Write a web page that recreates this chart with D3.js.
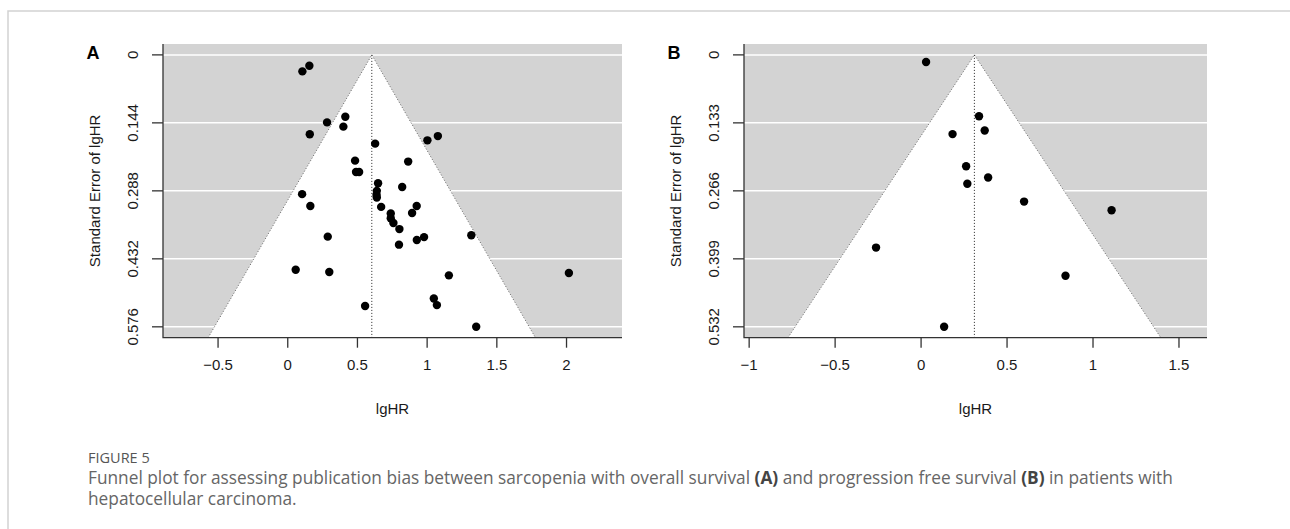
<!DOCTYPE html>
<html>
<head>
<meta charset="utf-8">
<script src="https://cdn.jsdelivr.net/npm/d3@7"></script>
<style>
  body { margin: 0; background: #fff; }
  svg text { font-family: "Liberation Sans", Arial, sans-serif; }
</style>
</head>
<body>
<svg id="chart" width="1290" height="529"></svg>
<script>
// panel A: overall survival
const lgHR_A = [0.155, 0.105, 0.282, 0.413, 0.399, 0.158, 0.627, 1.077, 1.002, 0.483,
  0.864, 0.490, 0.512, 0.648, 0.821, 0.103, 0.639, 0.637, 0.639, 0.162,
  0.670, 0.925, 0.892, 0.739, 0.739, 0.758, 0.801, 0.287, 0.978, 0.926,
  1.317, 0.798, 0.057, 0.298, 1.156, 2.017, 0.555, 1.048, 1.070, 1.352];
const se_A = [0.023, 0.035, 0.143, 0.131, 0.152, 0.168, 0.188, 0.172, 0.181, 0.224,
  0.226, 0.248, 0.248, 0.272, 0.280, 0.295, 0.288, 0.296, 0.302, 0.320,
  0.322, 0.320, 0.335, 0.336, 0.346, 0.356, 0.369, 0.385, 0.386, 0.392,
  0.382, 0.402, 0.455, 0.460, 0.467, 0.462, 0.532, 0.516, 0.530, 0.576];
const estimate_A = 0.603;
const seTicks_A = [0, 0.144, 0.288, 0.432, 0.576];
const seLabels_A = ["0", "0.144", "0.288", "0.432", "0.576"];
const xTicks_A = [-0.5, 0, 0.5, 1, 1.5, 2];
const xLabels_A = ["\u22120.5", "0", "0.5", "1", "1.5", "2"];

// panel B: progression free survival
const lgHR_B = [0.029, 0.337, 0.370, 0.183, 0.262, 0.390, 0.269, 0.599, 1.108, -0.262, 0.840, 0.134];
const se_B = [0.014, 0.120, 0.148, 0.155, 0.218, 0.240, 0.252, 0.287, 0.304, 0.377, 0.432, 0.532];
const estimate_B = 0.31;
const seTicks_B = [0, 0.133, 0.266, 0.399, 0.532];
const seLabels_B = ["0", "0.133", "0.266", "0.399", "0.532"];
const xTicks_B = [-1, -0.5, 0, 0.5, 1, 1.5];
const xLabels_B = ["\u22121", "\u22120.5", "0", "0.5", "1", "1.5"];

const svg = d3.select("#chart");

// outer frame (top + left only)
svg.append("path")
  .attr("d", "M8,529 V11 H1290")
  .attr("fill", "none")
  .attr("stroke", "#d2d2d2")
  .attr("stroke-width", 1.5);

function funnel(opts) {
  const {left, right, letter, xs, ses, est, seTicks, seLabels, xTicks, xLabels, xDomain} = opts;
  const top = 44, bottom = 337.7;
  const fs = 15;
  const seMax = d3.max(seTicks);
  const x = d3.scaleLinear().domain(xDomain).range([left, right]);
  const y = d3.scaleLinear().domain([-0.04 * seMax, 1.04 * seMax]).range([top, bottom]);
  const yLow = y.domain()[1];

  const g = svg.append("g");

  g.append("rect")
    .attr("x", left).attr("y", top)
    .attr("width", right - left).attr("height", bottom - top)
    .attr("fill", "#d3d3d3");

  g.selectAll(".grid")
    .data(seTicks)
    .join("line")
    .attr("x1", left).attr("x2", right)
    .attr("y1", d => y(d)).attr("y2", d => y(d))
    .attr("stroke", "#fff")
    .attr("stroke-width", 1.5);

  const tri = [[est - 1.96 * yLow, yLow], [est, 0], [est + 1.96 * yLow, yLow]];
  g.append("path")
    .attr("d", d3.line().x(d => x(d[0])).y(d => y(d[1]))(tri) + "Z")
    .attr("fill", "#fff");

  g.append("path")
    .attr("d", d3.line().x(d => x(d[0])).y(d => y(d[1]))(tri))
    .attr("fill", "none")
    .attr("stroke", "#666")
    .attr("stroke-width", 1)
    .attr("stroke-dasharray", "1,2");

  g.append("line")
    .attr("x1", x(est)).attr("x2", x(est))
    .attr("y1", y(0)).attr("y2", bottom)
    .attr("stroke", "#222")
    .attr("stroke-width", 1)
    .attr("stroke-dasharray", "1,2");

  g.selectAll(".pt")
    .data(xs.map((v, i) => [v, ses[i]]))
    .join("circle")
    .attr("cx", d => x(d[0]))
    .attr("cy", d => y(d[1]))
    .attr("r", 4.2)
    .attr("fill", "#000");

  // L box
  g.append("path")
    .attr("d", `M${left},${top} V${bottom} H${right}`)
    .attr("fill", "none")
    .attr("stroke", "#333")
    .attr("stroke-width", 1.3);

  // y axis ticks
  g.selectAll(".ytick")
    .data(seTicks)
    .join("line")
    .attr("x1", left - 11).attr("x2", left)
    .attr("y1", d => y(d)).attr("y2", d => y(d))
    .attr("stroke", "#333").attr("stroke-width", 1.3);

  g.selectAll(".ylab")
    .data(seTicks)
    .join("text")
    .attr("transform", d => `translate(${left - 30},${y(d)}) rotate(-90)`)
    .attr("text-anchor", "middle")
    .attr("dy", "0.35em")
    .attr("font-size", fs)
    .attr("fill", "#1a1a1a")
    .text((d, i) => seLabels[i]);

  // x axis ticks
  g.selectAll(".xtick")
    .data(xTicks)
    .join("line")
    .attr("x1", d => x(d)).attr("x2", d => x(d))
    .attr("y1", bottom).attr("y2", bottom + 10)
    .attr("stroke", "#333").attr("stroke-width", 1.3);

  g.selectAll(".xlab")
    .data(xTicks)
    .join("text")
    .attr("x", d => x(d))
    .attr("y", 365)
    .attr("text-anchor", "middle")
    .attr("dy", "0.35em")
    .attr("font-size", fs)
    .attr("fill", "#1a1a1a")
    .text((d, i) => xLabels[i]);

  g.append("text")
    .attr("transform", `translate(${left - 68},${(top + bottom) / 2}) rotate(-90)`)
    .attr("text-anchor", "middle")
    .attr("dy", "0.35em")
    .attr("font-size", fs)
    .attr("fill", "#1a1a1a")
    .text("Standard Error of lgHR");

  g.append("text")
    .attr("x", (left + right) / 2)
    .attr("y", 409)
    .attr("text-anchor", "middle")
    .attr("dy", "0.35em")
    .attr("font-size", fs)
    .attr("fill", "#1a1a1a")
    .text("lgHR");

  g.append("text")
    .attr("x", left - 70)
    .attr("y", 53)
    .attr("text-anchor", "middle")
    .attr("dy", "0.35em")
    .attr("font-size", 18)
    .attr("font-weight", "bold")
    .attr("fill", "#000")
    .text(letter);
}

funnel({left: 163, right: 622, letter: "A", xs: lgHR_A, ses: se_A, est: estimate_A,
  seTicks: seTicks_A, seLabels: seLabels_A, xTicks: xTicks_A, xLabels: xLabels_A,
  xDomain: [-0.895, 2.398]});
funnel({left: 744, right: 1207, letter: "B", xs: lgHR_B, ses: se_B, est: estimate_B,
  seTicks: seTicks_B, seLabels: seLabels_B, xTicks: xTicks_B, xLabels: xLabels_B,
  xDomain: [-1.03, 1.663]});

// caption
const capFont = "'Open Sans', Lato, sans-serif";
svg.append("text")
  .attr("x", 88).attr("y", 463)
  .attr("font-size", 14.5)
  .attr("fill", "#555")
  .style("font-family", capFont)
  .text("FIGURE 5");

const line1 = svg.append("text")
  .attr("x", 88).attr("y", 484)
  .attr("font-size", 17.3)
  .attr("fill", "#666")
  .style("font-family", capFont);
line1.append("tspan").text("Funnel plot for assessing publication bias between sarcopenia with overall survival ");
line1.append("tspan").attr("font-weight", "bold").attr("fill", "#444").text("(A)");
line1.append("tspan").text(" and progression free survival ");
line1.append("tspan").attr("font-weight", "bold").attr("fill", "#444").text("(B)");
line1.append("tspan").text(" in patients with");

svg.append("text")
  .attr("x", 88).attr("y", 505)
  .attr("font-size", 17.3)
  .attr("fill", "#666")
  .style("font-family", capFont)
  .text("hepatocellular carcinoma.");
</script>
</body>
</html>
